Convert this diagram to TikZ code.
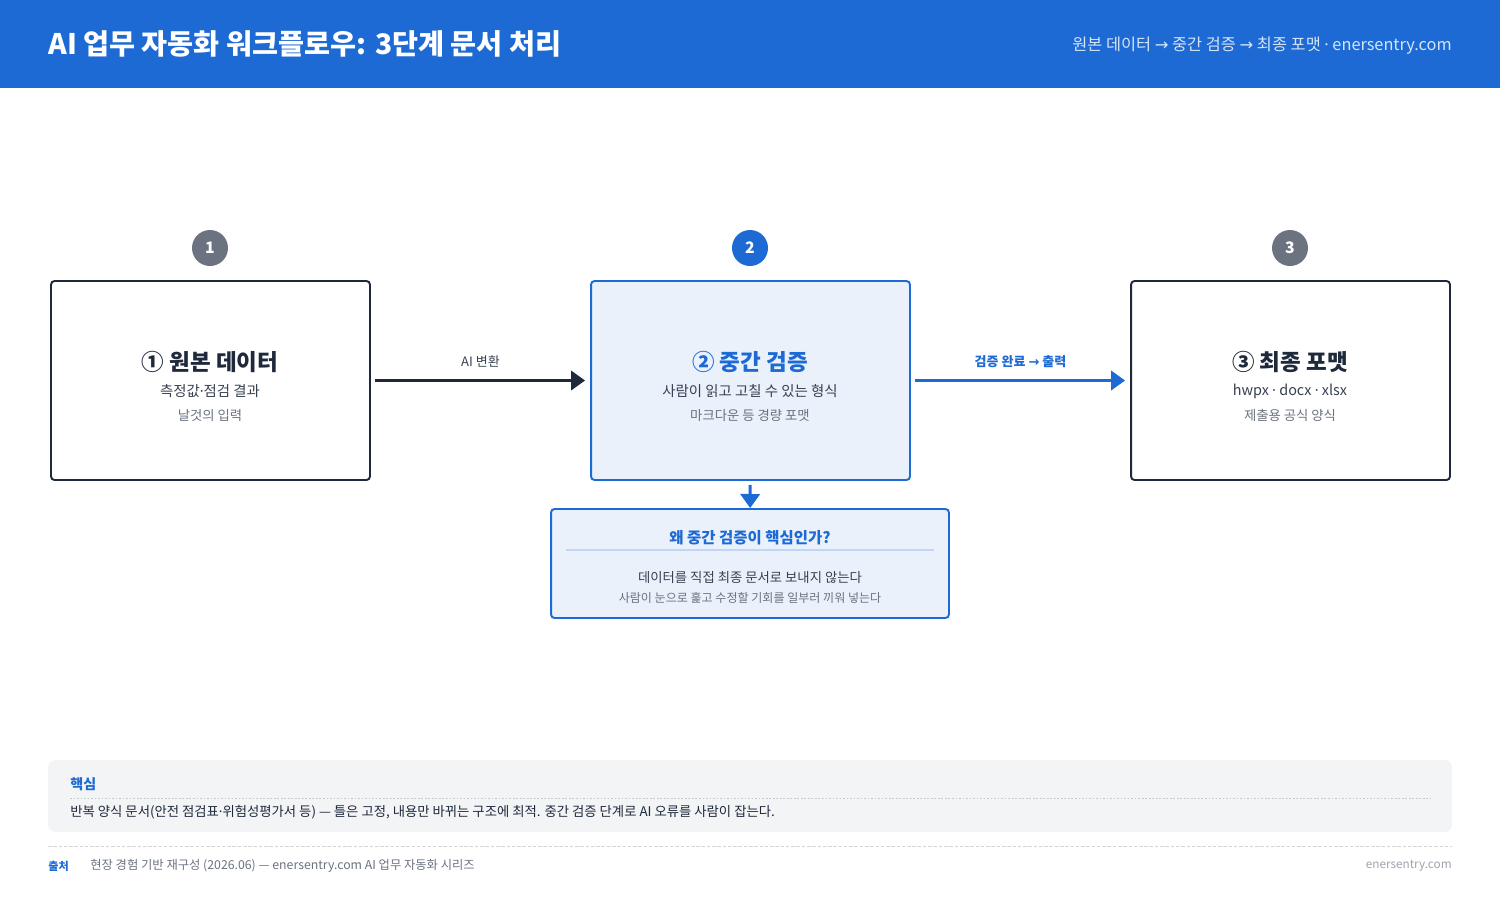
\documentclass[tikz,border=0pt]{standalone}
\usepackage{fontspec}
\setmainfont{Noto Sans CJK KR}
\newfontfamily\symfont{DejaVu Sans}
\newfontfamily\latfont{Noto Sans}
\usetikzlibrary{positioning,arrows.meta}
\definecolor{head}{HTML}{1D6AD4}
\definecolor{ink}{HTML}{1E293B}
\definecolor{mute}{HTML}{6B7280}
\definecolor{body}{HTML}{374151}
\definecolor{pale}{HTML}{EAF1FB}
\definecolor{rule}{HTML}{BFD6F6}
\definecolor{panel}{HTML}{F3F4F6}
\definecolor{faint}{HTML}{9CA3AF}
\newcommand\fsz[1]{\fontsize{#1}{#1}\selectfont}
\newcommand\ra{{\symfont →}}
\newcommand\md{{\latfont ·}}

\begin{document}
\begin{tikzpicture}[x=0.02cm, y=-0.02cm,
  stage/.style={draw=ink, line width=1.1pt, rounded corners=2pt, fill=white, minimum width=6.38cm, minimum height=3.98cm, inner sep=0pt},
  badge/.style={circle, fill=mute, minimum size=0.72cm, inner sep=0pt, text=white, font=\fsz{9}\bfseries},
  txt/.style={inner sep=0pt},
  stitle/.style={txt, font=\fsz{12.8}\bfseries, text=ink},
  ssub/.style={txt, font=\fsz{8.2}, text=body},
  snote/.style={txt, font=\fsz{7.6}, text=mute},
  lbl/.style={txt, font=\fsz{7.4}, text=body},
  arr/.style={-{Triangle[length=8pt, width=11pt]}, line width=1.7pt, draw=ink}]
% header
\fill[head] (0,0) rectangle (1500,88);
\node[txt, anchor=west, font=\fsz{16.1}\bfseries, text=white] (title) at (48,44) {AI 업무 자동화 워크플로우: 3단계 문서 처리};
\node[txt, anchor=east, font=\fsz{9.3}, text=white!82!head] (crumb) at (1452,46) {원본 데이터 \ra{} 중간 검증 \ra{} 최종 포맷 \md{} enersentry.com};
% stages
\node[stage] (src) at (210.5,380.5) {};
\node[stage, draw=head, fill=pale] (mid) at (750.5,380.5) {};
\node[stage] (out) at (1290.5,380.5) {};
\node[badge] (b1) at (210,248) {1};
\node[badge, fill=head] (b2) at (750,248) {2};
\node[badge] (b3) at (1290,248) {3};
\node[stitle] (srct) at (210,362) {① 원본 데이터};
\node[ssub] (srcs) at (210,391) {측정값\md 점검 결과};
\node[snote] (srcn) at (210,415) {날것의 입력};
\node[stitle, text=head] (midt) at (750,362) {② 중간 검증};
\node[ssub] (mids) at (750,391) {사람이 읽고 고칠 수 있는 형식};
\node[snote] (midn) at (750,415) {마크다운 등 경량 포맷};
\node[stitle] (outt) at (1290,362) {③ 최종 포맷};
\node[ssub] (outs) at (1290,391) {hwpx \md{} docx \md{} xlsx};
\node[snote] (outn) at (1290,415) {제출용 공식 양식};
\draw[arr, shorten <=0.08cm, shorten >=0.1cm] (src) -- (mid) node[lbl, midway, yshift=0.38cm] {AI 변환};
\draw[arr, draw=head, shorten <=0.08cm, shorten >=0.1cm] (mid) -- (out) node[lbl, midway, yshift=0.38cm, text=head, font=\fsz{7.4}\bfseries] {검증 완료 \ra{} 출력};
% why box
\node[stage, draw=head, fill=pale, minimum width=7.96cm, minimum height=2.18cm] (why) at (750,563.5) {};
\draw[arr, draw=head, shorten <=0.08cm] (mid) -- (why);
\node[txt, font=\fsz{8.8}\bfseries, text=head] (whyt) at (750,538) {왜 중간 검증이 핵심인가?};
\draw[rule, line width=0.6pt] (566,550) -- (934,550);
\node[ssub, font=\fsz{7.6}] (whys) at (750,577) {데이터를 직접 최종 문서로 보내지 않는다};
\node[snote, font=\fsz{6.85}] (whyn) at (750,598) {사람이 눈으로 훑고 수정할 기회를 일부러 끼워 넣는다};
% key panel
\node[fill=panel, rounded corners=4pt, minimum width=28.08cm, minimum height=1.44cm, inner sep=0pt] (key) at (750,796) {};
\node[txt, anchor=west, font=\fsz{8}\bfseries, text=head] (keyt) at (70,784) {핵심};
\draw[faint!60, line width=0.4pt, dash pattern=on 1pt off 1pt] (70,798) -- (1430,798);
\node[txt, anchor=west, font=\fsz{7.6}, text=ink] (keyb) at (70,812) {반복 양식 문서(안전 점검표\md 위험성평가서 등) — 틀은 고정, 내용만 바뀌는 구조에 최적. 중간 검증 단계로 AI 오류를 사람이 잡는다.};
% footer
\draw[faint!45, line width=0.4pt, dash pattern=on 2pt off 1pt] (48,846) -- (1452,846);
\node[txt, anchor=west, font=\fsz{6.3}\bfseries, text=head] (srcl) at (48,866) {출처};
\node[txt, anchor=west, font=\fsz{7}, text=mute] (srcb) at (90,866) {현장 경험 기반 재구성 (2026.06) — enersentry.com AI 업무 자동화 시리즈};
\node[txt, anchor=east, font=\fsz{6.7}, text=faint] (site) at (1452,866) {enersentry.com};
\useasboundingbox (0,0) rectangle (1500,900);
\end{tikzpicture}
\end{document}
